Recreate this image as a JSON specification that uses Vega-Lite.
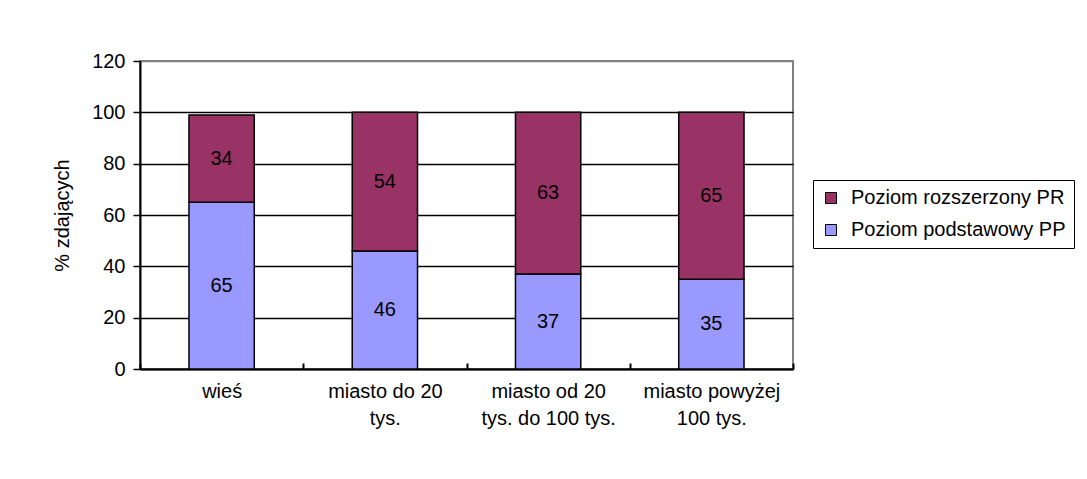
{
  "$schema": "https://vega.github.io/schema/vega-lite/v6.json",
  "width": 653,
  "height": 308,
  "autosize": {"type": "none"},
  "padding": {"left": 140, "top": 61, "right": 294, "bottom": 110},
  "background": "white",
  "config": {
    "font": "Liberation Sans",
    "view": {"stroke": "#808080", "strokeWidth": 2},
    "axis": {"labelFont": "Liberation Sans", "titleFont": "Liberation Sans"}
  },
  "data": {
    "values": [
      {"area": "wieś", "level": "Poziom podstawowy PP", "value": 65},
      {"area": "wieś", "level": "Poziom rozszerzony PR", "value": 34},
      {"area": "miasto do 20 tys.", "level": "Poziom podstawowy PP", "value": 46},
      {"area": "miasto do 20 tys.", "level": "Poziom rozszerzony PR", "value": 54},
      {"area": "miasto od 20 tys. do 100 tys.", "level": "Poziom podstawowy PP", "value": 37},
      {"area": "miasto od 20 tys. do 100 tys.", "level": "Poziom rozszerzony PR", "value": 63},
      {"area": "miasto powyżej 100 tys.", "level": "Poziom podstawowy PP", "value": 35},
      {"area": "miasto powyżej 100 tys.", "level": "Poziom rozszerzony PR", "value": 65}
    ]
  },
  "transform": [
    {"stack": "value", "groupby": ["area"], "sort": [{"field": "level", "order": "ascending"}], "as": ["v0", "v1"]},
    {"calculate": "(datum.v0 + datum.v1) / 2", "as": "vmid"}
  ],
  "encoding": {
    "x": {
      "field": "area",
      "type": "nominal",
      "sort": ["wieś", "miasto do 20 tys.", "miasto od 20 tys. do 100 tys.", "miasto powyżej 100 tys."],
      "scale": {"paddingInner": 0, "paddingOuter": 0},
      "axis": {
        "title": null,
        "labelAngle": 0,
        "labelFontSize": 20,
        "labelColor": "black",
        "labelLineHeight": 27,
        "labelBaseline": "top",
        "labelPadding": 18,
        "labelExpr": "datum.value == 'miasto do 20 tys.' ? ['miasto do 20', 'tys.'] : datum.value == 'miasto od 20 tys. do 100 tys.' ? ['miasto od 20', 'tys. do 100 tys.'] : datum.value == 'miasto powyżej 100 tys.' ? ['miasto powyżej', '100 tys.'] : datum.value",
        "tickBand": "extent",
        "tickSize": -6,
        "tickColor": "black",
        "tickWidth": 2,
        "domainColor": "black",
        "domainWidth": 2,
        "grid": false
      }
    }
  },
  "layer": [
    {
      "mark": {"type": "bar", "stroke": "black", "strokeWidth": 1.5, "width": {"band": 0.4}},
      "encoding": {
        "y": {
          "field": "v0",
          "type": "quantitative",
          "scale": {"domain": [0, 120]},
          "axis": {
            "title": "% zdających",
            "titleFontSize": 20,
            "titleFontWeight": "normal",
            "titleColor": "black",
            "titlePadding": 19,
            "values": [0, 20, 40, 60, 80, 100, 120],
            "labelFontSize": 20,
            "labelColor": "black",
            "labelPadding": 8,
            "tickSize": 7,
            "tickColor": "black",
            "tickWidth": 1.5,
            "domainColor": "black",
            "domainWidth": 2,
            "grid": true,
            "gridColor": {"condition": {"test": "datum.value == 120", "value": "#808080"}, "value": "black"},
            "gridWidth": 1.5
          }
        },
        "y2": {"field": "v1"},
        "color": {
          "field": "level",
          "type": "nominal",
          "scale": {
            "domain": ["Poziom rozszerzony PR", "Poziom podstawowy PP"],
            "range": ["#993366", "#9999FF"]
          },
          "legend": {
            "title": null,
            "orient": "none",
            "legendX": 673,
            "legendY": 119,
            "direction": "vertical",
            "strokeColor": "black",
            "padding": 8,
            "symbolType": "square",
            "symbolSize": 121,
            "symbolStrokeColor": "black",
            "symbolStrokeWidth": 1,
            "labelFontSize": 20,
            "labelColor": "black",
            "labelOffset": 10,
            "rowPadding": 12,
            "labelLimit": 400
          }
        }
      }
    },
    {
      "mark": {"type": "text", "fontSize": 20, "color": "black", "baseline": "middle"},
      "encoding": {
        "y": {"field": "vmid", "type": "quantitative"},
        "text": {"field": "value", "type": "quantitative"}
      }
    }
  ]
}
